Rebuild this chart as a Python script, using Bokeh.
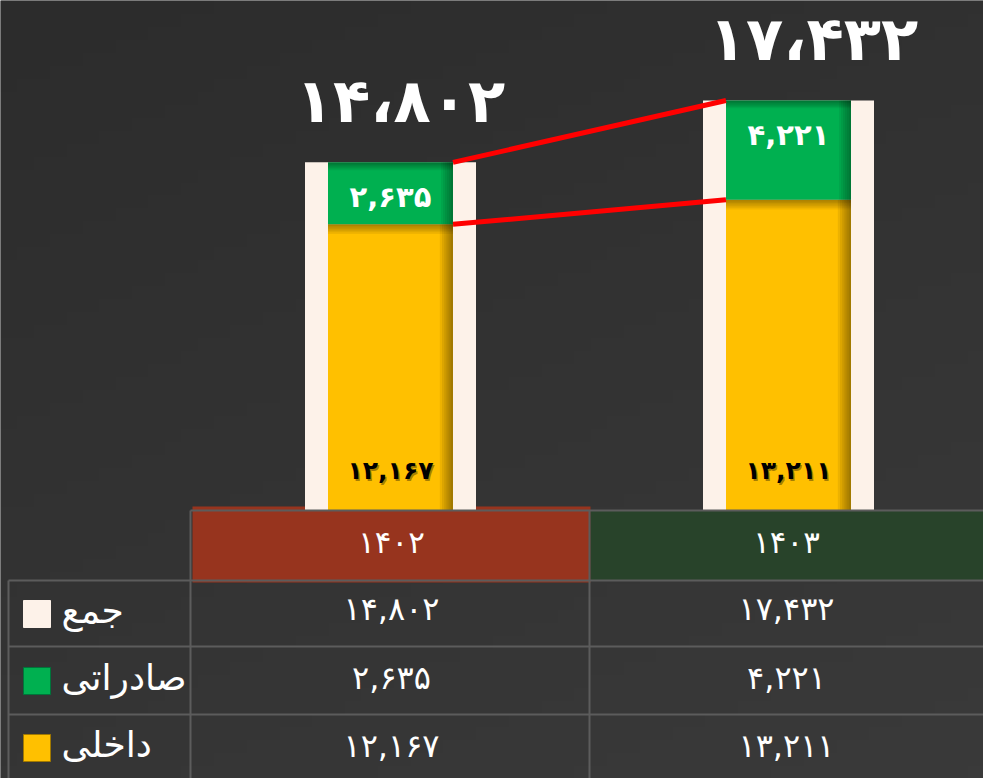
import numpy as np
from bokeh.plotting import figure
from bokeh.models import Range1d
from bokeh.core.properties import value
from bokeh.embed import file_html
from bokeh.resources import INLINE

# ---------------- data ----------------
years = ["1402", "1403"]
domestic = [12167, 13211]      # داخلی
export = [2635, 4221]          # صادراتی
total = [14802, 17432]         # جمع
series_names = ["جمع", "صادراتی", "داخلی"]

FA = str.maketrans("0123456789", "۰۱۲۳۴۵۶۷۸۹")


def fa_num(v, sep=","):
    return f"{v:,}".replace(",", sep).translate(FA)


year_lbl = [y.translate(FA) for y in years]
dom_lbl = [fa_num(v) for v in domestic]
exp_lbl = [fa_num(v) for v in export]
tot_lbl = [fa_num(v) for v in total]
tot_big_lbl = [fa_num(v, "،") for v in total]
dom_top = [d + e for d, e in zip(domestic, export)]

# ---------------- layout (pixel space) ----------------
W, H = 983, 778
K = 0.02352            # px per value unit
BASE = 510             # y pixel of the zero line


def Y(ypx):
    return (BASE - ypx) / K


CX = [390, 788]        # category centres (px)
BIG_DX = [10, 25]      # horizontal nudge of the total labels (px)
OUTER_W, INNER_W = 171, 125

CREAM = "#FDF2E9"
YELLOW = "#FFC000"
GREEN = "#00B050"
GRID = "#5C5C5C"
FONT = value("DejaVu Sans")

p = figure(width=W, height=H, x_range=Range1d(0, W), y_range=Range1d(Y(H), Y(0)),
           x_axis_location=None, y_axis_location=None, toolbar_location=None,
           output_backend="svg", min_border=0, outline_line_color=None,
           background_fill_color="#303030", border_fill_color="#303030")
p.xgrid.visible = False
p.ygrid.visible = False

# background gradient
ny, nx = 60, 60
yy, xx = np.mgrid[0:ny, 0:nx]
t = (xx / (nx - 1)) * 0.35 + (1 - yy / (ny - 1)) * 0.65
g = (44 + 14 * t).astype(np.uint32)
img = (np.uint32(255) << 24) | (g << 16) | (g << 8) | g
p.image_rgba(image=[img.astype(np.uint32)], x=0, y=Y(H), dw=W, dh=Y(0) - Y(H))

# header cells
p.quad(left=[192, 590], right=[590, W], top=[Y(506), Y(510)], bottom=[Y(582), Y(580)],
       fill_color=["#97341E", "#28432A"], line_color=None)

# bars
p.vbar(x=CX, width=OUTER_W, top=total, bottom=0, fill_color=CREAM, line_color=None)
p.vbar(x=CX, width=INNER_W, top=domestic, bottom=0, fill_color=YELLOW, line_color=None)
p.vbar(x=CX, width=INNER_W, top=dom_top, bottom=domestic, fill_color=GREEN, line_color=None)

# inner shading (Excel-like bevel)
for i, cx in enumerate(CX):
    r = cx + INNER_W / 2
    l = cx - INNER_W / 2
    for s in range(6):
        p.quad(left=r - (s + 1) * 2.2, right=r, bottom=0, top=domestic[i],
               fill_color="black", fill_alpha=0.07, line_color=None)
        p.quad(left=l, right=r, top=domestic[i], bottom=domestic[i] - (s + 1) * 1.6 / K,
               fill_color="black", fill_alpha=0.06, line_color=None)
        p.quad(left=r - (s + 1) * 2.0, right=r, bottom=domestic[i], top=dom_top[i],
               fill_color="black", fill_alpha=0.06, line_color=None)
        p.quad(left=l, right=r, top=dom_top[i], bottom=dom_top[i] - (s + 1) * 1.3 / K,
               fill_color="black", fill_alpha=0.06, line_color=None)

# series lines
p.segment(x0=[CX[0] + INNER_W / 2] * 2, y0=[dom_top[0], domestic[0]],
          x1=[CX[1] - INNER_W / 2] * 2, y1=[dom_top[1], domestic[1]],
          line_color="#FF0000", line_width=5)

# bar labels
p.text(x=[c + d for c, d in zip(CX, BIG_DX)], y=[v + 62 / K for v in total], text=tot_big_lbl,
       text_font=FONT, text_font_style="bold", text_font_size="61px",
       text_color="white", text_align="center", text_baseline="middle")
p.text(x=CX, y=[v - 35 / K for v in dom_top], text=exp_lbl,
       text_font=FONT, text_font_style="bold", text_font_size="29px",
       text_color="white", text_align="center", text_baseline="middle")
p.text(x=[c + 1.5 for c in CX], y=[Y(471.5)] * 2, text=dom_lbl,
       text_font=FONT, text_font_style="bold", text_font_size="25px",
       text_color="#000000", text_alpha=0.35, text_align="center", text_baseline="middle")
p.text(x=CX, y=[Y(470)] * 2, text=dom_lbl,
       text_font=FONT, text_font_style="bold", text_font_size="25px",
       text_color="#000000", text_align="center", text_baseline="middle")

# table grid
p.segment(x0=[190, 8, 8, 8, 8, 190, 589], y0=[Y(510), Y(580), Y(646), Y(714), Y(580), Y(510), Y(510)],
          x1=[W, W, W, W, 8, 190, 589], y1=[Y(510), Y(580), Y(646), Y(714), Y(H), Y(H), Y(H)],
          line_color=GRID, line_width=2)

TCX = [391, 786]
p.text(x=TCX, y=[Y(541)] * 2, text=year_lbl, text_font=FONT, text_font_size="31px",
       text_color="white", text_align="center", text_baseline="middle")
rows_y = [608, 677, 745]
rows = [tot_lbl, exp_lbl, dom_lbl]
for ry, vals in zip(rows_y, rows):
    p.text(x=TCX, y=[Y(ry)] * 2, text=vals, text_font=FONT, text_font_size="32px",
           text_color="white", text_align="center", text_baseline="middle")

# legend keys
sw_top = [600, 667, 734]
p.quad(left=[23] * 3, right=[50] * 3, top=[Y(v) for v in sw_top], bottom=[Y(v + 27) for v in sw_top],
       fill_color=[CREAM, GREEN, YELLOW], line_color=[CREAM, "#00743A", "#A07800"], line_width=1)
p.text(x=[61] * 3, y=[Y(v + 10) for v in sw_top], text=series_names, text_font=FONT,
       text_font_size="36px", text_color="white", text_align="left", text_baseline="middle")

open("out.html", "w").write(file_html(p, INLINE))
